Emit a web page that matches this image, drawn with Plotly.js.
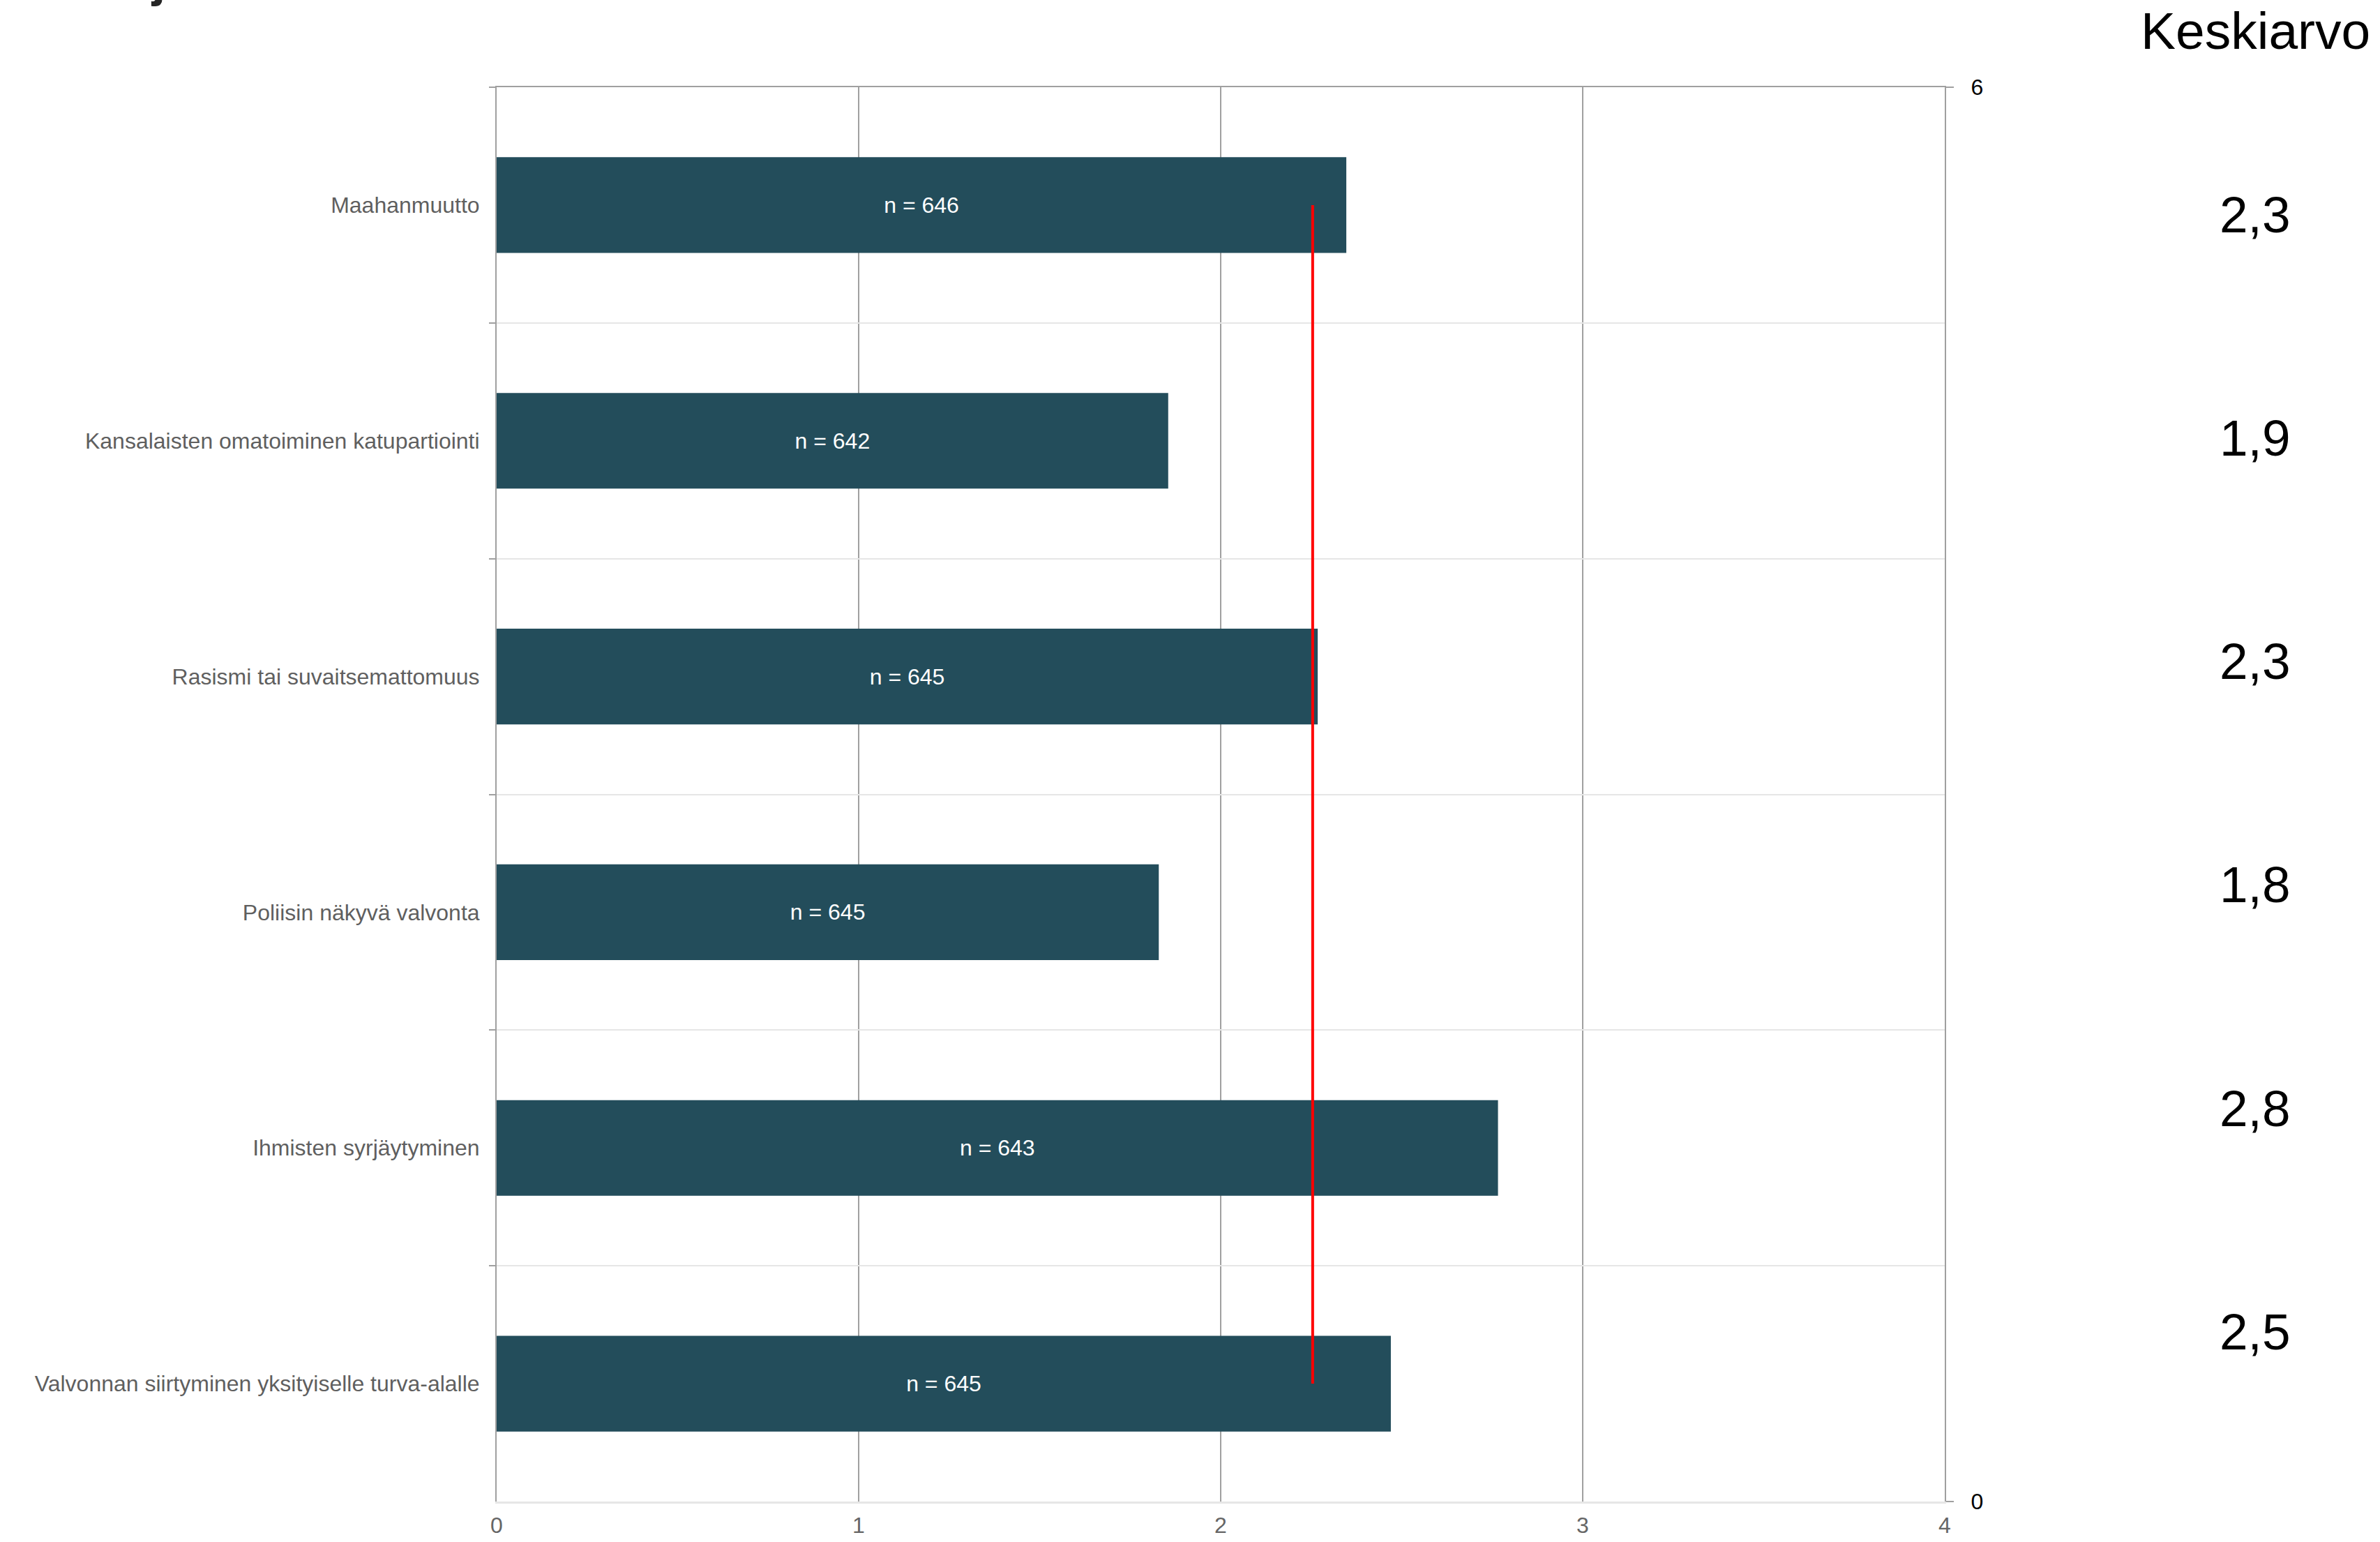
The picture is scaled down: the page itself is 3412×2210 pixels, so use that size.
<!DOCTYPE html>
<html>
<head>
<meta charset="utf-8">
<script src="https://cdn.plot.ly/plotly-3.0.1.min.js"></script>
<style>html,body{margin:0;padding:0;background:#fff;}#chart{width:3412px;height:2210px;}</style>
</head>
<body>
<div id="chart"></div>
<script>
// ---- data ----
const categories = [
  "Maahanmuutto",
  "Kansalaisten omatoiminen katupartiointi",
  "Rasismi tai suvaitsemattomuus",
  "Poliisin näkyvä valvonta",
  "Ihmisten syrjäytyminen",
  "Valvonnan siirtyminen yksityiselle turva-alalle"
];
const values = [2.347, 1.855, 2.268, 1.829, 2.766, 2.470];
const nCounts = [646, 642, 645, 645, 643, 645];
const meanLabels = ["2,3", "1,9", "2,3", "1,8", "2,8", "2,5"];
const overallMean = 2.254;
const xTicks = [0, 1, 2, 3, 4];
const rightTicks = [0, 6];
const columnHeader = "Keskiarvo";

// ---- layout constants (pixels) ----
const W = 3412, H = 2210;
const L = 712, R = 624, T = 125, B = 58;
const plotW = W - L - R, plotH = H - T - B;
const px2x = p => (p - L) / plotW;
const py2y = p => 1 - (p - T) / plotH;

const FONT = "Liberation Sans, Arial, sans-serif";

const barTrace = {
  type: "bar",
  orientation: "h",
  x: values,
  y: categories,
  marker: {color: "#234d5b"},
  width: 0.406,
  text: nCounts.map(n => "n = " + n),
  textposition: "inside",
  insidetextanchor: "middle",
  constraintext: "none",
  textfont: {family: FONT, size: 32, color: "#ffffff"},
  hoverinfo: "skip",
  xaxis: "x",
  yaxis: "y"
};

const meanTrace = {
  type: "scatter",
  mode: "lines",
  x: categories.map(() => overallMean),
  y: categories,
  line: {color: "#ff0000", width: 4},
  hoverinfo: "skip",
  xaxis: "x",
  yaxis: "y"
};

// empty trace that only makes the secondary (top / right) axes exist
const secondaryAxesTrace = {
  type: "scatter",
  mode: "markers",
  x: [null],
  y: [null],
  hoverinfo: "skip",
  xaxis: "x2",
  yaxis: "y2"
};

const annotations = [];
annotations.push({
  text: columnHeader, xref: "paper", yref: "paper",
  x: px2x(3233), y: py2y(44), xanchor: "center", yanchor: "middle",
  showarrow: false, font: {family: FONT, size: 75, color: "#000000"}
});
meanLabels.forEach((t, i) => {
  annotations.push({
    text: t, xref: "paper", yref: "paper",
    x: px2x(3232), y: py2y(307 + i * 320.3), xanchor: "center", yanchor: "middle",
    showarrow: false, font: {family: FONT, size: 73, color: "#000000"}
  });
});
// cut-off fragment of the original title at the very top-left
annotations.push({
  text: "<b>j</b>", xref: "paper", yref: "paper",
  x: px2x(226), y: py2y(11), xanchor: "center", yanchor: "bottom",
  showarrow: false, font: {family: FONT, size: 70, color: "#262626"}
});

const layout = {
  width: W, height: H,
  margin: {l: L, r: R, t: T, b: B, pad: 0},
  paper_bgcolor: "#ffffff",
  plot_bgcolor: "#ffffff",
  showlegend: false,
  font: {family: FONT},
  xaxis: {
    range: [0, 4], tickvals: xTicks, ticktext: xTicks.map(String),
    showgrid: true, gridcolor: "#a0a0a0", gridwidth: 1.5,
    zeroline: false, showline: true, linecolor: "#e6e6e6", linewidth: 3,
    ticks: "", tickfont: {family: FONT, size: 32, color: "#666666"},
    ticklabelstandoff: 4,
    fixedrange: true
  },
  xaxis2: {
    range: [0, 4], overlaying: "x", side: "top", anchor: "y2",
    showline: true, linecolor: "#a0a0a0", linewidth: 2,
    showgrid: false, zeroline: false, ticks: "", showticklabels: false
  },
  yaxis: {
    type: "category", categoryorder: "array", categoryarray: categories,
    autorange: "reversed",
    tickson: "boundaries", ticks: "outside", ticklen: 9, tickwidth: 2, tickcolor: "#a0a0a0",
    showline: true, linecolor: "#a0a0a0", linewidth: 2,
    showgrid: true, gridcolor: "#e6e6e6", gridwidth: 2,
    zeroline: false,
    tickfont: {family: FONT, size: 32, color: "#5f5f5f"},
    ticklabelstandoff: 16,
    fixedrange: true
  },
  yaxis2: {
    range: [0, 6], tickvals: rightTicks, ticktext: rightTicks.map(String),
    overlaying: "y", side: "right", anchor: "x2",
    showline: true, linecolor: "#a0a0a0", linewidth: 2,
    ticks: "outside", ticklen: 11, tickwidth: 2, tickcolor: "#a0a0a0",
    showgrid: false, zeroline: false,
    tickfont: {family: FONT, size: 32, color: "#000000"},
    ticklabelstandoff: 18
  },
  annotations: annotations,
  bargap: 0.594
};

Plotly.newPlot("chart", [barTrace, meanTrace, secondaryAxesTrace], layout, {staticPlot: true, displayModeBar: false});
</script>
</body>
</html>
